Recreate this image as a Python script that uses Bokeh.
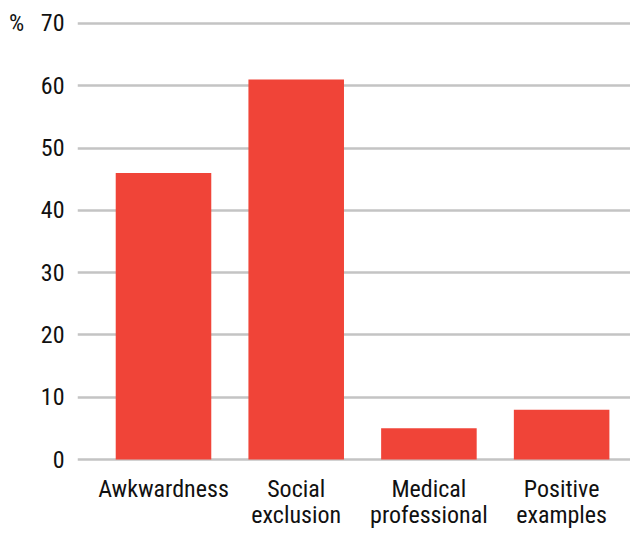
import numpy as np
from bokeh.plotting import figure
from bokeh.models import Range1d, FixedTicker, ColumnDataSource
from bokeh.core.properties import value
from bokeh.embed import file_html
from bokeh.resources import INLINE

categories = ["Awkwardness", "Social exclusion", "Medical professional", "Positive examples"]
label_line1 = ["Awkwardness", "Social", "Medical", "Positive"]
label_line2 = ["", "exclusion", "professional", "examples"]
percent = [46, 61, 5, 8]
y_ticks = [0, 10, 20, 30, 40, 50, 60, 70]

FONT = "Roboto Condensed, DejaVu Sans Condensed, Roboto"
FS = "24px"
BAR = "#F04438"

x = np.arange(len(categories)) + 0.5

p = figure(width=630, height=554, output_backend="svg", toolbar_location=None,
           x_range=Range1d(-0.148, 4.019), y_range=Range1d(-15.25, 73.69),
           min_border_left=77, min_border_right=0, min_border_top=0, min_border_bottom=0)
p.outline_line_color = None
p.xaxis.visible = False
p.xgrid.grid_line_color = None

p.yaxis.ticker = FixedTicker(ticks=y_ticks)
p.yaxis.major_label_overrides = {70: "%\u00a0\u00a0\u00a070"}
p.yaxis.axis_line_color = None
p.yaxis.major_tick_line_color = None
p.yaxis.minor_tick_line_color = None
p.yaxis.major_tick_in = 0
p.yaxis.major_tick_out = 0
p.yaxis.major_label_standoff = 13
p.yaxis.major_label_text_font = FONT
p.yaxis.major_label_text_font_size = FS
p.yaxis.major_label_text_color = "#111111"

p.ygrid.grid_line_color = "#c4c4c4"
p.ygrid.grid_line_width = 2.5

src = ColumnDataSource(dict(x=x, top=percent, l1=label_line1, l2=label_line2))
p.vbar(x="x", top="top", bottom=0, width=0.72, source=src, fill_color=BAR, line_color=None)

p.text(x="x", y=-4.66, text="l1", source=src, text_align="center", text_baseline="middle",
       text_font=value(FONT), text_font_size=FS, text_color="#111111")
p.text(x="x", y=-8.83, text="l2", source=src, text_align="center", text_baseline="middle",
       text_font=value(FONT), text_font_size=FS, text_color="#111111")

open("out.html", "w").write(file_html(p, INLINE))
